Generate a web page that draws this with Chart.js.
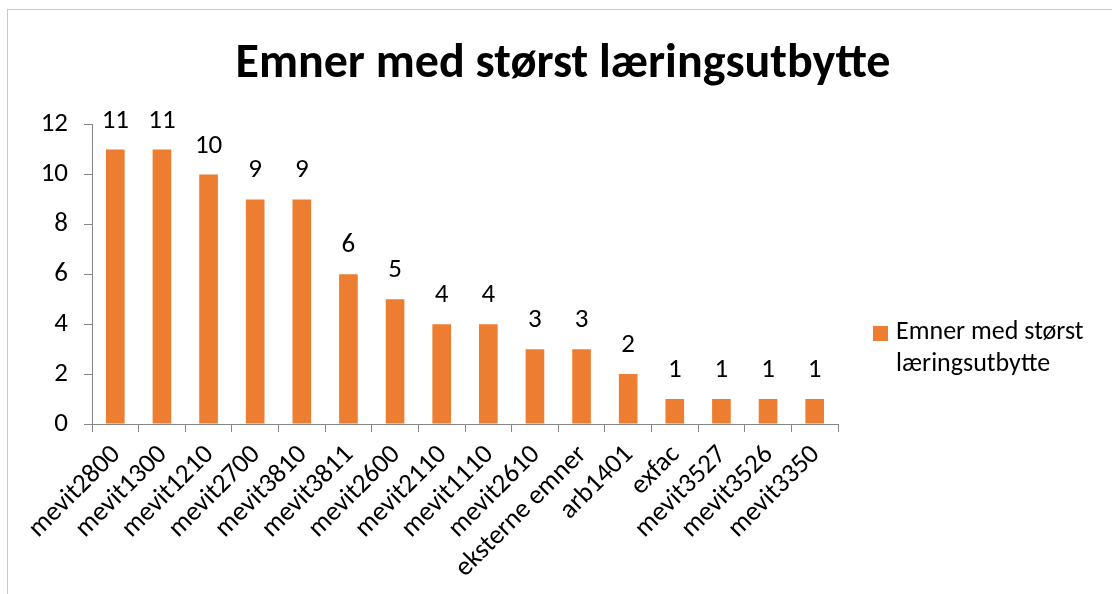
<!DOCTYPE html>
<html>
<head>
<meta charset="utf-8">
<script src="https://cdn.jsdelivr.net/npm/chart.js@4/dist/chart.umd.min.js"></script>
<style>
  html, body { margin: 0; padding: 0; background: #fff; overflow: hidden; }
  #wrap { position: relative; width: 1112px; height: 594px; overflow: hidden; }
  #frame { position: absolute; left: 7px; top: 9px; width: 1200px; height: 700px; border: 1px solid #c8c8c8; box-sizing: border-box; pointer-events: none; }
  canvas { position: absolute; left: 0; top: 0; }
  #legend { position: absolute; left: 873px; top: 314px; font-family: Carlito, Calibri, Lato, sans-serif; font-size: 26px; line-height: 32px; color: #000; white-space: nowrap; }
  #legend .sw { position: absolute; left: 0; top: 12px; width: 15px; height: 15px; background: #ED7D31; }
  #legend .tx { margin-left: 23px; }
</style>
</head>
<body>
<div id="wrap">
  <canvas id="c" width="1112" height="594"></canvas>
  <div id="frame"></div>
  <div id="legend"><div class="sw"></div><div class="tx" id="legtxt"></div></div>
</div>
<script>
const categories = ["mevit2800","mevit1300","mevit1210","mevit2700","mevit3810","mevit3811","mevit2600","mevit2110","mevit1110","mevit2610","eksterne emner","arb1401","exfac","mevit3527","mevit3526","mevit3350"];
const values = [11, 11, 10, 9, 9, 6, 5, 4, 4, 3, 3, 2, 1, 1, 1, 1];
const seriesName = "Emner med størst læringsutbytte";
const legendLines = ["Emner med størst", "læringsutbytte"];
const yTicks = [0, 2, 4, 6, 8, 10, 12];

const FONT = "Carlito, Calibri, Lato, sans-serif";
document.getElementById('legtxt').innerHTML = legendLines.join('<br>');

const dataLabels = {
  id: 'dataLabels',
  afterDatasetsDraw(chart) {
    const ctx = chart.ctx;
    const meta = chart.getDatasetMeta(0);
    ctx.save();
    ctx.font = '27px ' + FONT;
    ctx.fillStyle = '#000';
    ctx.textAlign = 'center';
    ctx.textBaseline = 'alphabetic';
    meta.data.forEach((bar, i) => {
      ctx.fillText(String(values[i]), bar.x, bar.y - 22);
    });
    ctx.restore();
  }
};

new Chart(document.getElementById('c'), {
  type: 'bar',
  data: {
    labels: categories,
    datasets: [{
      label: seriesName,
      data: values,
      backgroundColor: '#ED7D31',
      borderWidth: 0,
      categoryPercentage: 1.0,
      barPercentage: 0.4,
      yAxisID: 'y'
    }]
  },
  options: {
    responsive: false,
    animation: false,
    layout: { padding: { left: 14, right: 0, top: 0, bottom: 0 } },
    plugins: {
      legend: { display: false },
      tooltip: { enabled: false },
      title: {
        display: true,
        text: "Emner med størst læringsutbytte",
        font: { family: FONT, size: 48, weight: 'bold' },
        color: '#000',
        padding: { top: 36, bottom: 31 }
      }
    },
    scales: {
      x: {
        offset: true,
        grid: { display: true, drawOnChartArea: false, offset: true, tickLength: 8, color: '#868686' },
        border: { display: true, color: '#868686', width: 1 },
        ticks: {
          font: { family: FONT, size: 27 },
          color: '#000',
          minRotation: 45,
          maxRotation: 45,
          padding: 7,
          labelOffset: 1,
          autoSkip: false
        },
        afterFit(scale) { scale.height = 170; }
      },
      y: {
        position: 'left',
        min: 0,
        max: 12,
        afterBuildTicks(scale) { scale.ticks = yTicks.map(v => ({ value: v })); },
        grid: { display: true, drawOnChartArea: false, tickLength: 8, color: '#868686' },
        border: { display: true, color: '#868686', width: 1 },
        ticks: {
          font: { family: FONT, size: 27 },
          color: '#000',
          padding: 16
        },
        afterFit(scale) { scale.width = 78; }
      },
      spacer: {
        type: 'linear',
        position: 'right',
        display: true,
        grid: { display: false },
        border: { display: false },
        ticks: { display: false },
        afterFit(scale) { scale.width = 274; }
      }
    }
  },
  plugins: [dataLabels]
});
</script>
</body>
</html>
